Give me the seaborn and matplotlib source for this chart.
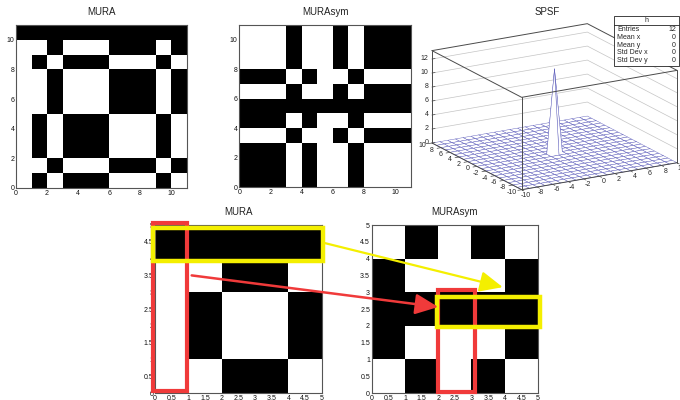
import numpy as np
import matplotlib
matplotlib.use("Agg")
import matplotlib.pyplot as plt
import seaborn as sns
from matplotlib.colors import ListedColormap
from matplotlib.patches import Rectangle, ConnectionPatch, ArrowStyle
from matplotlib.lines import Line2D
from matplotlib.ticker import MultipleLocator, FuncFormatter
from mpl_toolkits.mplot3d import proj3d

sns.set_style("white")
plt.rcParams["font.family"] = ["Liberation Sans", "DejaVu Sans"]

# ---------------- data (1 = black / open element), rows listed from y=0 upward ----------------
mura11_rows = [
    [0, 1, 0, 1, 1, 1, 0, 0, 0, 1, 0],  # y=0
    [0, 0, 1, 0, 0, 0, 1, 1, 1, 0, 1],  # y=1
    [0, 1, 0, 1, 1, 1, 0, 0, 0, 1, 0],  # y=2
    [0, 1, 0, 1, 1, 1, 0, 0, 0, 1, 0],  # y=3
    [0, 1, 0, 1, 1, 1, 0, 0, 0, 1, 0],  # y=4
    [0, 0, 1, 0, 0, 0, 1, 1, 1, 0, 1],  # y=5
    [0, 0, 1, 0, 0, 0, 1, 1, 1, 0, 1],  # y=6
    [0, 0, 1, 0, 0, 0, 1, 1, 1, 0, 1],  # y=7
    [0, 1, 0, 1, 1, 1, 0, 0, 0, 1, 0],  # y=8
    [0, 0, 1, 0, 0, 0, 1, 1, 1, 0, 1],  # y=9
    [1, 1, 1, 1, 1, 1, 1, 1, 1, 1, 1],  # y=10
]
murasym11_rows = [
    [1, 1, 1, 0, 1, 0, 0, 1, 0, 0, 0],  # y=0
    [1, 1, 1, 0, 1, 0, 0, 1, 0, 0, 0],  # y=1
    [1, 1, 1, 0, 1, 0, 0, 1, 0, 0, 0],  # y=2
    [0, 0, 0, 1, 0, 0, 1, 0, 1, 1, 1],  # y=3
    [1, 1, 1, 0, 1, 0, 0, 1, 0, 0, 0],  # y=4
    [1, 1, 1, 1, 1, 1, 1, 1, 1, 1, 1],  # y=5
    [0, 0, 0, 1, 0, 0, 1, 0, 1, 1, 1],  # y=6
    [1, 1, 1, 0, 1, 0, 0, 1, 0, 0, 0],  # y=7
    [0, 0, 0, 1, 0, 0, 1, 0, 1, 1, 1],  # y=8
    [0, 0, 0, 1, 0, 0, 1, 0, 1, 1, 1],  # y=9
    [0, 0, 0, 1, 0, 0, 1, 0, 1, 1, 1],  # y=10
]
mura5_rows = [
    [0, 0, 1, 1, 0],  # y=0
    [0, 1, 0, 0, 1],  # y=1
    [0, 1, 0, 0, 1],  # y=2
    [0, 0, 1, 1, 0],  # y=3
    [1, 1, 1, 1, 1],  # y=4
]
murasym5_rows = [
    [0, 1, 0, 1, 0],  # y=0
    [1, 0, 0, 0, 1],  # y=1
    [1, 1, 1, 1, 1],  # y=2
    [1, 0, 0, 0, 1],  # y=3
    [0, 1, 0, 1, 0],  # y=4
]

# SPSF histogram: all 12 entries at (0, 0)
spsf_grid = list(range(-10, 11))
spsf_peak_xy = (0, 0)
spsf_peak = 12
spsf_xy_ticks = [-10, -8, -6, -4, -2, 0, 2, 4, 6, 8, 10]
spsf_z_ticks = [0, 2, 4, 6, 8, 10, 12]
stats_title = "h"
stats_labels = ["Entries", "Mean x", "Mean y", "Std Dev x", "Std Dev y"]
stats_values = ["12", "0", "0", "0", "0"]

# highlighted structures (cell indices)
mura5_hl_row, mura5_hl_col = 4, 0
sym5_hl_row, sym5_hl_col, sym5_hl_row_from = 2, 2, 2

# ---------------- layout helpers ----------------
W, H = 680, 400
fig = plt.figure(figsize=(W / 100, H / 100), dpi=100)
fig.patch.set_facecolor("white")


def px_rect(l, t, r, b):
    return [l / W, 1 - b / H, (r - l) / W, (b - t) / H]


cmap = ListedColormap(["white", "black"])
fmt = FuncFormatter(lambda v, p: f"{v:g}")


def mask_panel(rect, rows, title, major, minor):
    ax = fig.add_axes(rect)
    n = len(rows)
    sns.heatmap(np.array(rows), ax=ax, cmap=cmap, vmin=0, vmax=1, cbar=False,
                xticklabels=False, yticklabels=False)
    ax.set_xlim(0, n)
    ax.set_ylim(0, n)
    for s in ax.spines.values():
        s.set_visible(True)
        s.set_color("#555555")
        s.set_linewidth(0.8)
    for axis in (ax.xaxis, ax.yaxis):
        axis.set_major_locator(MultipleLocator(major))
        axis.set_minor_locator(MultipleLocator(minor))
        axis.set_major_formatter(fmt)
    ax.tick_params(which="both", direction="in", top=False, right=False,
                   bottom=True, left=True, labelsize=5, pad=1.2,
                   color="#444444", width=0.6, labelcolor="#111111")
    ax.tick_params(which="major", length=5)
    ax.tick_params(which="minor", length=2.5)
    ax.set_xlabel("")
    ax.set_ylabel("")
    ax.set_title(title, fontsize=7, pad=7, color="#222222")
    return ax


ax_mura = mask_panel(px_rect(16, 25, 186.7, 188), mura11_rows, "MURA", 2, 0.4)
ax_sym = mask_panel(px_rect(239.3, 25, 410.8, 187), murasym11_rows, "MURAsym", 2, 0.4)
ax_m5 = mask_panel(px_rect(155, 225, 321.7, 393), mura5_rows, "MURA", 0.5, 0.1)
ax_s5 = mask_panel(px_rect(371.7, 225, 538, 393), murasym5_rows, "MURAsym", 0.5, 0.1)

# ---------------- highlights ----------------
yellow = "#f4ef00"
red = "#f03a3a"
pad = 0.05
n5 = len(mura5_rows)
ax_m5.add_patch(Rectangle((mura5_hl_col - pad, 0 + pad), 1, n5, fill=False, ec=red, lw=3.0,
                          clip_on=False, zorder=5))
ax_m5.add_patch(Rectangle((0 - pad, mura5_hl_row - 0.07), n5 + 2 * pad, 0.98, fill=False,
                          ec=yellow, lw=3.2, clip_on=False, zorder=6))
ax_s5.add_patch(Rectangle((sym5_hl_col, 0 + pad / 2), 1.1, 3.05, fill=False, ec=red, lw=3.0,
                          clip_on=False, zorder=5))
ax_s5.add_patch(Rectangle((sym5_hl_row_from - 0.04, sym5_hl_row - 0.04), n5 - sym5_hl_row_from + 0.09,
                          0.9, fill=False, ec=yellow, lw=3.2, clip_on=False, zorder=6))

astyle = ArrowStyle("-|>", head_length=1.0, head_width=0.45)
fig.add_artist(ConnectionPatch(xyA=(n5 + 0.1, mura5_hl_row + 0.46), coordsA=ax_m5.transData,
                               xyB=(3.94, 3.15), coordsB=ax_s5.transData,
                               arrowstyle=astyle, mutation_scale=14, color=yellow, lw=1.6,
                               shrinkA=0, shrinkB=0, zorder=7))
fig.add_artist(ConnectionPatch(xyA=(1.1, 3.5), coordsA=ax_m5.transData,
                               xyB=(sym5_hl_col, 2.56), coordsB=ax_s5.transData,
                               arrowstyle=astyle, mutation_scale=14, color=red, lw=1.8,
                               shrinkA=0, shrinkB=0, zorder=7))

# ---------------- SPSF 3D surface ----------------
ax3 = fig.add_axes([0.62, 0.45, 0.38, 0.5], projection="3d", proj_type="ortho")
ax3.view_init(elev=17.5, azim=-120)
ax3.set_box_aspect((1, 1, 0.54))
ax3.set_axis_off()
ax3.patch.set_alpha(0)
X, Y = np.meshgrid(spsf_grid, spsf_grid)
Z = np.zeros(X.shape)
Z[(X == spsf_peak_xy[0]) & (Y == spsf_peak_xy[1])] = spsf_peak
lo, hi = spsf_grid[0], spsf_grid[-1]
zmax = 1.1 * spsf_peak
ax3.set_xlim(lo, hi)
ax3.set_ylim(lo, hi)
ax3.set_zlim(0, zmax)
ax3.plot_surface(X, Y, Z, rstride=1, cstride=1, color="white", edgecolor="#5656b8",
                 linewidth=0.3, shade=False, antialiased=True)

grid_c = "#c4c4c4"
for z in spsf_z_ticks[1:]:
    ax3.plot([lo, hi, hi], [hi, hi, lo], [z, z, z], color=grid_c, lw=0.5, zorder=0.6)
edge_c = "#4a4a4a"
ax3.plot([lo, hi, hi], [hi, hi, lo], [zmax] * 3, color=edge_c, lw=0.7, zorder=0.7)
ax3.plot([lo, lo, hi], [hi, lo, lo], [zmax] * 3, color=edge_c, lw=0.7, zorder=10)
for (xx, yy) in [(lo, hi), (lo, lo), (hi, lo)]:
    ax3.plot([xx, xx], [yy, yy], [0, zmax], color=edge_c, lw=0.7, zorder=10)
ax3.plot([lo, lo, hi], [hi, lo, lo], [0, 0, 0], color=edge_c, lw=0.7, zorder=10)

for v in spsf_xy_ticks:
    ax3.plot([v, v], [lo, lo - 0.5], [0, 0], color=edge_c, lw=0.5, zorder=10)
    ax3.plot([lo, lo - 0.5], [v, v], [0, 0], color=edge_c, lw=0.5, zorder=10)
    ax3.text(v, lo - 0.9, 0, f"{v}", fontsize=5, ha="center", va="top", zorder=11)
    ax3.text(lo - 1.4, v - 0.3, 0, f"{v}", fontsize=5, ha="center", va="center", zorder=11)
for z in spsf_z_ticks:
    ax3.plot([lo, lo + 0.4], [hi, hi], [z, z], color=edge_c, lw=0.5, zorder=10)
    ax3.text(lo - 0.3, hi + 0.3, z, f"{z}", fontsize=5, ha="right", va="center", zorder=11)

# fit projected box onto target pixel corners
t_left = np.array([432.0, H - 143.0])
t_right = np.array([677.0, H - 163.0])


def corners_px():
    M = ax3.get_proj()
    xs = np.array([lo, hi], float)
    ys = np.array([hi, lo], float)
    zs = np.array([0, 0], float)
    tx, ty, _ = proj3d.proj_transform(xs, ys, zs, M)
    return ax3.transData.transform(np.column_stack([tx, ty]))


for _ in range(3):
    fig.canvas.draw()
    pl, pr = corners_px()
    s = (t_right[0] - t_left[0]) / (pr[0] - pl[0])
    pos = ax3.get_position(original=True)
    cx, cy = (pos.x0 + pos.x1) / 2 * W, (pos.y0 + pos.y1) / 2 * H
    ncx = t_left[0] - s * (pl[0] - cx)
    ncy = t_left[1] - s * (pl[1] - cy)
    nw, nh = pos.width * W * s, pos.height * H * s
    ax3.set_position([(ncx - nw / 2) / W, (ncy - nh / 2) / H, nw / W, nh / H])

fig.text(547 / W, 1 - 12 / H, "SPSF", fontsize=7, ha="center", va="center", color="#222222")

# stats box
bx0, by0, bx1, by1 = 614, 16, 679, 66
hdr_line = 24.5
fig.add_artist(Rectangle((bx0 / W, 1 - by1 / H), (bx1 - bx0) / W, (by1 - by0) / H,
                         transform=fig.transFigure, fc="white", ec="#222222", lw=0.6, zorder=20))
fig.add_artist(Line2D([bx0 / W, bx1 / W], [1 - hdr_line / H] * 2, transform=fig.transFigure,
                      color="#222222", lw=0.6, zorder=21))
fig.text((bx0 + bx1) / 2 / W, 1 - 20.3 / H, stats_title, fontsize=5, ha="center", va="center", zorder=22)
row0, row_h = 29.3, 7.9
for i, (lab, val) in enumerate(zip(stats_labels, stats_values)):
    yy = row0 + row_h * i
    fig.text((bx0 + 3) / W, 1 - yy / H, lab, fontsize=5, ha="left", va="center", zorder=22)
    fig.text((bx1 - 3) / W, 1 - yy / H, val, fontsize=5, ha="right", va="center", zorder=22)

fig.savefig("out.png", dpi=100, facecolor="white")
